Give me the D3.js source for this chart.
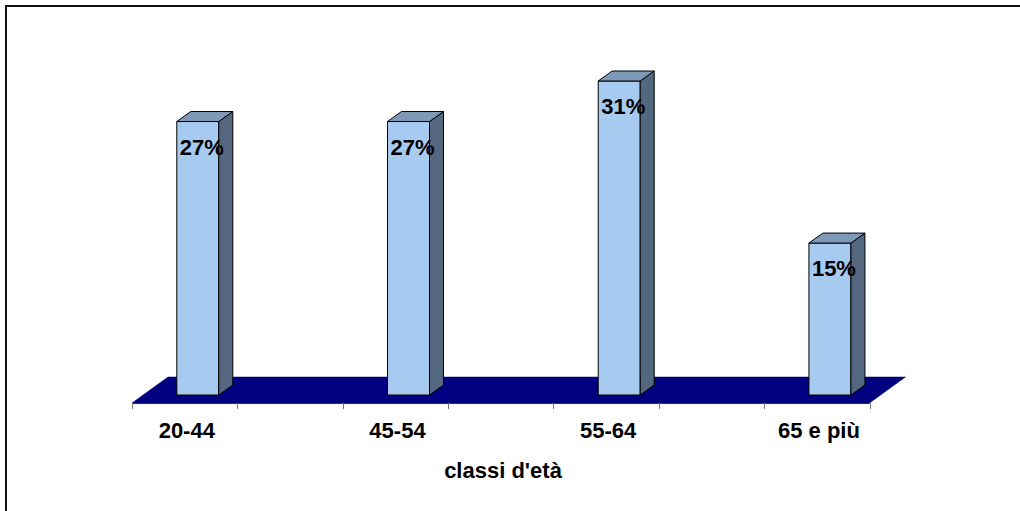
<!DOCTYPE html>
<html>
<head>
<meta charset="utf-8">
<script src="https://cdn.jsdelivr.net/npm/d3@7"></script>
<style>
  html, body { margin: 0; padding: 0; background: #fff; }
  svg { display: block; font-family: "Liberation Sans", Arial, sans-serif; }
</style>
</head>
<body>
<svg id="chart" width="1020" height="511"></svg>
<script>
// Age classes and share of each class (percent)
const categories = ["20-44", "45-54", "55-64", "65 e più"];
const values = [27, 27, 31, 15];
const valueLabels = ["27%", "27%", "31%", "15%"];
const axisTitle = "classi d'età";

const svg = d3.select("#chart");

// outer frame (extends past right and bottom edges)
svg.append("rect")
  .attr("x", 6).attr("y", 6)
  .attr("width", 1100).attr("height", 600)
  .attr("fill", "#fff")
  .attr("stroke", "#111").attr("stroke-width", 2);

// Category axis: 7 tick intervals, categories centred at slot 2i + 0.5
const slot = d3.scaleLinear().domain([0, 7]).range([132, 869.5]);
const catSlot = categories.map((c, i) => 2 * i + 0.52);

// Value axis
const y = d3.scaleLinear().domain([0, 31]).range([395, 81]);

const floorY = 403;           // front edge of floor
const floorDX = 36, floorDY = 26;   // floor depth offset
const barShiftX = 11, barShiftY = 8; // bar front plane offset into the floor
const barW = 42;
const depthX = 14, depthY = 10;      // bar depth
const fontSize = 22;

// floor
svg.append("path")
  .attr("d", d3.line()([
    [slot(0), floorY],
    [slot(7), floorY],
    [slot(7) + floorDX, floorY - floorDY],
    [slot(0) + floorDX, floorY - floorDY]
  ]) + "Z")
  .attr("fill", "#000080")
  .attr("stroke", "#000060").attr("stroke-width", 0.5);

// axis line and ticks
svg.append("line")
  .attr("x1", slot(0)).attr("x2", slot(7))
  .attr("y1", floorY + 0.5).attr("y2", floorY + 0.5)
  .attr("stroke", "#333").attr("stroke-width", 1);

svg.append("g").selectAll("line")
  .data(d3.range(0, 8))
  .join("line")
  .attr("x1", d => Math.round(slot(d)) + 0.5)
  .attr("x2", d => Math.round(slot(d)) + 0.5)
  .attr("y1", floorY).attr("y2", floorY + 6)
  .attr("stroke", "#777").attr("stroke-width", 1);

// bars
const bars = svg.append("g")
  .selectAll("g")
  .data(categories.map((c, i) => ({ c, v: values[i], label: valueLabels[i], s: catSlot[i] })))
  .join("g");

const x0 = d => slot(d.s) + barShiftX - barW / 2;
const x1 = d => slot(d.s) + barShiftX + barW / 2;
const yb = () => floorY - barShiftY;

// front face
bars.append("path")
  .attr("d", d => d3.line()([
    [x0(d), y(d.v)], [x1(d), y(d.v)], [x1(d), yb()], [x0(d), yb()]
  ]) + "Z")
  .attr("fill", "#A6CAF0")
  .attr("stroke", "#000").attr("stroke-width", 1).attr("stroke-linejoin", "round");

// side face
bars.append("path")
  .attr("d", d => d3.line()([
    [x1(d), y(d.v)], [x1(d) + depthX, y(d.v) - depthY],
    [x1(d) + depthX, yb() - depthY], [x1(d), yb()]
  ]) + "Z")
  .attr("fill", "#53677F")
  .attr("stroke", "#000").attr("stroke-width", 1).attr("stroke-linejoin", "round");

// top face
bars.append("path")
  .attr("d", d => d3.line()([
    [x0(d), y(d.v)], [x0(d) + depthX, y(d.v) - depthY],
    [x1(d) + depthX, y(d.v) - depthY], [x1(d), y(d.v)]
  ]) + "Z")
  .attr("fill", "#7E9AB8")
  .attr("stroke", "#000").attr("stroke-width", 1).attr("stroke-linejoin", "round");

// value labels
bars.append("text")
  .attr("x", d => slot(d.s) + barShiftX + 4)
  .attr("y", d => y(d.v) + 33)
  .attr("text-anchor", "middle")
  .attr("font-size", fontSize).attr("font-weight", "bold")
  .attr("fill", "#000")
  .text(d => d.label);

// category labels
svg.append("g").selectAll("text")
  .data(categories)
  .join("text")
  .attr("x", (d, i) => slot(catSlot[i]))
  .attr("y", 438)
  .attr("text-anchor", "middle")
  .attr("font-size", fontSize).attr("font-weight", "bold")
  .attr("fill", "#000")
  .text(d => d);

// axis title
svg.append("text")
  .attr("x", 503).attr("y", 478)
  .attr("text-anchor", "middle")
  .attr("font-size", fontSize).attr("font-weight", "bold")
  .attr("fill", "#000")
  .text(axisTitle);
</script>
</body>
</html>
